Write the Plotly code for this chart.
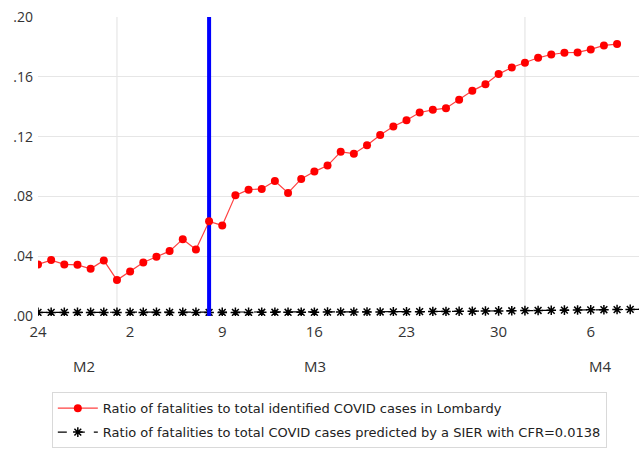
import pandas as pd
import plotly.graph_objects as go

# Daily series, starting Monday 24 Feb 2020
start_date = "2020-02-24"

observed_ratio = [
    0.0345, 0.0374, 0.0345, 0.0342, 0.0316, 0.0372, 0.0240, 0.0298, 0.0358, 0.0396,
    0.0434, 0.0514, 0.0445, 0.0633, 0.0606, 0.0807, 0.0845, 0.0850, 0.0903, 0.0823,
    0.0917, 0.0966, 0.1006, 0.1098, 0.1086, 0.1142, 0.1211, 0.1267, 0.1310, 0.1361,
    0.1379, 0.1390, 0.1446, 0.1506, 0.1551, 0.1618, 0.1662, 0.1694, 0.1727, 0.1749,
    0.1761, 0.1763, 0.1783, 0.1810, 0.1819,
]

predicted_ratio = [
    0.0024, 0.0024, 0.0024, 0.0024, 0.0024, 0.0024, 0.0024, 0.0024, 0.0024, 0.0024,
    0.0024, 0.0024, 0.0024, 0.0024, 0.0024, 0.0024, 0.0024, 0.0025, 0.0025, 0.0025,
    0.0025, 0.0025, 0.0026, 0.0026, 0.0026, 0.0027, 0.0027, 0.0028, 0.0028, 0.0029,
    0.0030, 0.0030, 0.0031, 0.0032, 0.0033, 0.0034, 0.0035, 0.0036, 0.0037, 0.0038,
    0.0039, 0.0040, 0.0041, 0.0042, 0.0043, 0.0044, 0.0045,
]

event_date = "2020-03-08"
event_span = [0.0, 0.20]

tick_dates = ["2020-02-24", "2020-03-02", "2020-03-09", "2020-03-16",
              "2020-03-23", "2020-03-30", "2020-04-06"]
tick_labels = ["24", "2", "9", "16", "23", "30", "6"]

y_ticks = [0.00, 0.04, 0.08, 0.12, 0.16, 0.20]
y_labels = [".00", ".04", ".08", ".12", ".16", ".20"]

month_starts = ["2020-03-01", "2020-04-01"]
month_labels = ["M2", "M3", "M4"]
month_label_dates = ["2020-02-27 12:00", "2020-03-16 02:00", "2020-04-06 16:00"]

x_range = ["2020-02-24", "2020-04-09 16:00"]

obs_dates = pd.date_range(start_date, periods=len(observed_ratio), freq="D")
pred_dates = pd.date_range(start_date, periods=len(predicted_ratio), freq="D")

tick_font = "Open Sans, DejaVu Sans, sans-serif"
legend_font = "DejaVu Sans, sans-serif"

fig = go.Figure()

fig.add_trace(go.Scatter(
    x=pred_dates, y=predicted_ratio, mode="lines+markers",
    name="Ratio of fatalities to total COVID cases predicted by a SIER with CFR=0.0138",
    legendgroup="model", legendrank=2,
    line=dict(color="black", width=1.2, dash="dash"),
    marker=dict(symbol="asterisk-open", size=8, color="black",
                line=dict(color="black", width=1.5)),
))

fig.add_trace(go.Scatter(
    x=[event_date, event_date], y=event_span, mode="lines",
    line=dict(color="#0000ff", width=4), showlegend=False, hoverinfo="skip",
))

fig.add_trace(go.Scatter(
    x=obs_dates, y=observed_ratio, mode="lines+markers",
    name="Ratio of fatalities to total identified COVID cases in Lombardy",
    legendgroup="observed", legendrank=1,
    line=dict(color="rgba(255,0,0,0.75)", width=1.2),
    marker=dict(symbol="circle", size=8, color="#ff0000"),
))

# month start grid lines
for d in month_starts:
    fig.add_shape(type="line", xref="x", yref="y", x0=d, x1=d, y0=0, y1=0.2,
                  line=dict(color="#e6e6e6", width=1.2), layer="below")

for lab, d in zip(month_labels, month_label_dates):
    fig.add_annotation(x=d, y=-0.168, xref="x", yref="paper", text=lab,
                       showarrow=False, yanchor="middle", xanchor="center",
                       font=dict(family=tick_font, size=15, color="#333333"))

fig.update_layout(
    width=639, height=453,
    margin=dict(l=38, r=0, t=17, b=137),
    paper_bgcolor="white", plot_bgcolor="white",
    font=dict(family=tick_font, color="#333333"),
    showlegend=True,
    legend=dict(
        x=0.023, y=-0.255, xanchor="left", yanchor="top",
        traceorder="grouped", tracegroupgap=4,
        bordercolor="#d9d9d9", borderwidth=1, bgcolor="white",
        font=dict(family=legend_font, size=13, color="#222222"),
        itemwidth=40,
    ),
    xaxis=dict(
        type="date", range=x_range,
        tickmode="array", tickvals=tick_dates, ticktext=tick_labels,
        showgrid=False, zeroline=False, showline=False, ticks="",
        ticklabelstandoff=5,
        tickfont=dict(family=tick_font, size=15, color="#333333"),
    ),
    yaxis=dict(
        range=[0, 0.2],
        tickmode="array", tickvals=y_ticks, ticktext=y_labels,
        showgrid=True, gridcolor="#e6e6e6", gridwidth=1.2,
        zeroline=False, showline=False, ticks="",
        ticklabelstandoff=4,
        tickfont=dict(family=tick_font, size=14, color="#333333"),
    ),
)

fig.write_html("out.html")
